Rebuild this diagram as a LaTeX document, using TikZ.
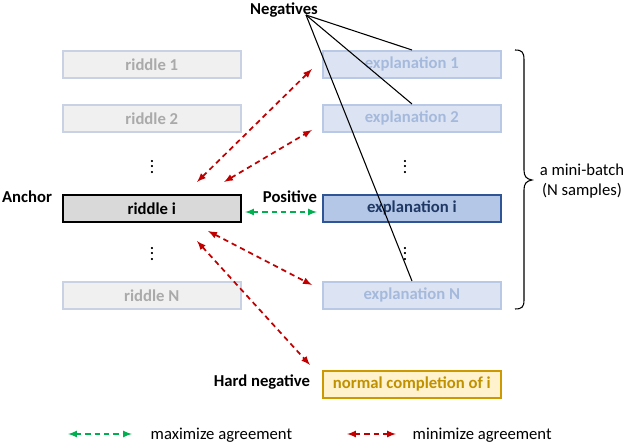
\documentclass[tikz,border=0pt]{standalone}
\usepackage{fontspec}
\setmainfont{Carlito}
\begin{document}
\begin{tikzpicture}[x=0.75pt,y=-0.75pt,
 box/.style={draw, line width=1.2pt, minimum width=178pt*0.75, minimum height=27pt*0.75, anchor=north west, font=\bfseries\fontsize{12.5}{14}\selectfont, inner sep=0},
 faded/.style={box, draw={rgb,255:red,200;green,210;blue,228}, fill={rgb,255:red,240;green,240;blue,240}, text={rgb,255:red,170;green,170;blue,170}},
 fadedb/.style={box, draw={rgb,255:red,185;green,200;blue,228}, fill={rgb,255:red,220;green,228;blue,243}, text={rgb,255:red,165;green,185;blue,220}},
 red/.style={draw={rgb,255:red,192;green,0;blue,0}, line width=1.3pt, dash pattern=on 4pt off 3pt, <->, >=latex},
 grn/.style={draw={rgb,255:red,0;green,176;blue,80}, line width=1.3pt, dash pattern=on 4pt off 3pt, <->, >=latex},
 lab/.style={font=\bfseries\fontsize{12.5}{14}\selectfont},
 dots/.style={font=\bfseries\fontsize{11}{11}\selectfont, inner sep=0}]
\useasboundingbox (0,0) rectangle (640,448);
\node[faded] (r1) at (62,50) {riddle 1};
\node[faded] (r2) at (62,104) {riddle 2};
\node[box, fill={rgb,255:red,217;green,217;blue,217}, draw=black] (ri) at (62,194) {riddle i};
\node[faded] (rN) at (62,281) {riddle N};
\node[fadedb] (e1) at (322,50) {explanation 1};
\node[fadedb] (e2) at (322,104) {explanation 2};
\node[box, fill={rgb,255:red,180;green,199;blue,231}, draw={rgb,255:red,47;green,85;blue,151}, text={rgb,255:red,31;green,56;blue,100}] (ei) at (322,194) {explanation i};
\node[fadedb] (eN) at (322,281) {explanation N};
\node[box, fill={rgb,255:red,255;green,242;blue,204}, draw={rgb,255:red,204;green,153;blue,0}, text={rgb,255:red,191;green,144;blue,0}] (nc) at (322,370) {normal completion of i};
\node[dots] (d1) at (152,163) {$\vdots$};
\node[dots] (d2) at (152,250) {$\vdots$};
\node[dots] (d3) at (405,163) {$\vdots$};
\node[dots] (d4) at (405,250) {$\vdots$};
\node[lab] (neg) at (284,10) {Negatives};
\node[lab] (anc) at (27,197) {Anchor};
\node[lab] (pos) at (290,197) {Positive};
\node[lab] (hn) at (262,382) {Hard negative};
\coordinate (n0) at (306,15);
\coordinate (t1) at (412,50);
\coordinate (t2) at (412,104);
\coordinate (t3) at (412,281);
\draw[thick] (n0) -- (t1); \draw[thick] (n0) -- (t2); \draw[thick] (n0) -- (t3);
\draw[thick] (515,50) .. controls (522,50) and (524,52) .. (524,60) -- (524,170) .. controls (524,176) and (526,179) .. (532,180) .. controls (526,181) and (524,184) .. (524,190) -- (524,300) .. controls (524,307) and (522,309) .. (515,309);
\node[font=\fontsize{12.5}{15}\selectfont, align=center] (mb) at (582,181) {a mini-batch\\(N samples)};
\coordinate (a1) at (197,182); \coordinate (b1) at (312,69);
\coordinate (a2) at (224,182); \coordinate (b2) at (312,130);
\coordinate (a3) at (208,231); \coordinate (b3) at (312,285);
\coordinate (a4) at (197,241); \coordinate (b4) at (310,365);
\draw[red] (a1) -- (b1); \draw[red] (a2) -- (b2); \draw[red] (a3) -- (b3); \draw[red] (a4) -- (b4);
\coordinate (g1) at (245,212); \coordinate (g2) at (317,212);
\draw[grn] (g1) -- (g2);
\coordinate (lg1) at (68,434); \coordinate (lg2) at (132,434);
\draw[grn] (lg1) -- (lg2);
\node[font=\fontsize{12.5}{15}\selectfont, anchor=west] (l1) at (146,435) {maximize agreement};
\coordinate (lr1) at (347,434); \coordinate (lr2) at (396,434);
\draw[red] (lr1) -- (lr2);
\node[font=\fontsize{12.5}{15}\selectfont, anchor=west] (l2) at (408,435) {minimize agreement};
\end{tikzpicture}
\end{document}
